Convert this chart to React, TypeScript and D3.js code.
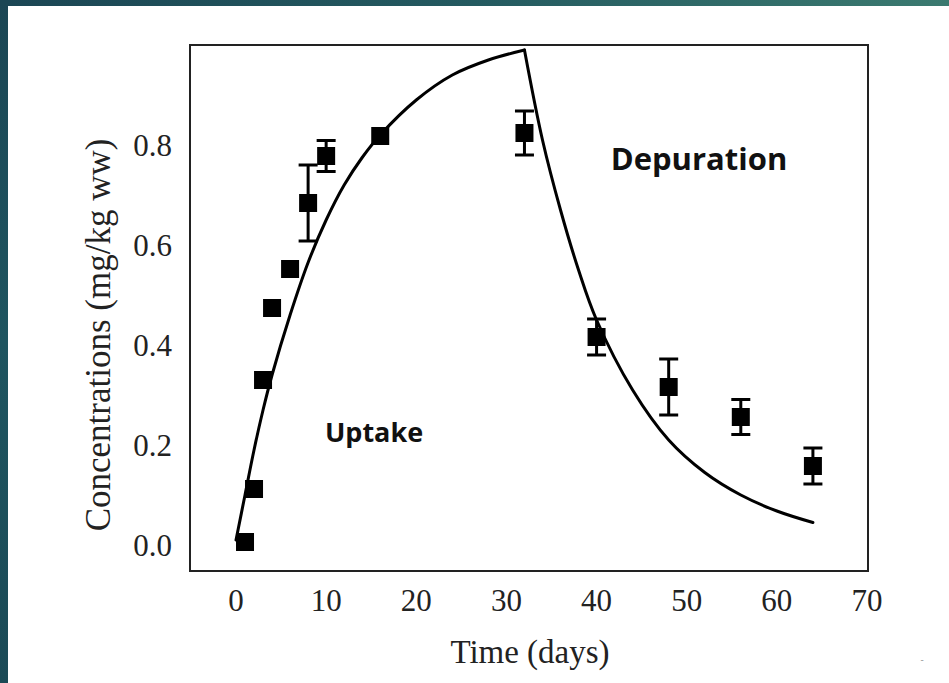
import React from "react";
import * as d3 from "d3";

// Observed (mean ± error) concentrations
const obsDays = [1, 2, 3, 4, 6, 8, 10, 16, 32, 40, 48, 56, 64];
const obsMean = [0.006, 0.112, 0.33, 0.474, 0.552, 0.684, 0.778, 0.818, 0.824, 0.416, 0.316, 0.256, 0.158];
const obsErr = [0, 0, 0, 0, 0, 0.076, 0.031, 0, 0.044, 0.036, 0.056, 0.035, 0.036];

// Fitted model curve
const uptakeDays = [0, 1, 2, 3, 4, 6, 8, 10, 12, 14, 16, 20, 24, 28, 32];
const uptakeConc = [0.01, 0.1, 0.19, 0.27, 0.34, 0.46, 0.565, 0.65, 0.72, 0.775, 0.82, 0.89, 0.94, 0.97, 0.99];
const depDays = [32, 34, 36, 38, 40, 44, 48, 52, 56, 60, 64];
const depConc = [0.99, 0.81, 0.67, 0.55, 0.45, 0.31, 0.21, 0.145, 0.1, 0.068, 0.045];

const xTicks = [0, 10, 20, 30, 40, 50, 60, 70];
const yTicks = [0, 0.2, 0.4, 0.6, 0.8];

const W = 949;
const H = 683;

export default function App() {
  const x = d3.scaleLinear().domain([0, 70]).range([236, 867]);
  const y = d3.scaleLinear().domain([0, 0.8]).range([545, 145]);
  const frame = { x0: 190, x1: 868, y0: 45, y1: 571 };

  const line = d3
    .line<[number, number]>()
    .x((d) => x(d[0]))
    .y((d) => y(d[1]))
    .curve(d3.curveCatmullRom.alpha(0.5));

  const upPts: [number, number][] = uptakeDays.map((d, i) => [d, uptakeConc[i]]);
  const depPts: [number, number][] = depDays.map((d, i) => [d, depConc[i]]);

  const sq = 18;
  const cap = 19;
  const serif = "'Liberation Serif', 'Times New Roman', serif";
  const sans = "'Open Sans', Lato, sans-serif";

  return (
    <svg
      width={W}
      height={H}
      style={{ position: "absolute", left: 0, top: 0, display: "block" }}
    >
      <defs>
        <linearGradient id="topg" x1="0" x2="1" y1="0" y2="0">
          <stop offset="0" stopColor="#1b4654" />
          <stop offset="0.5" stopColor="#245a60" />
          <stop offset="1" stopColor="#3b7a70" />
        </linearGradient>
        <linearGradient id="leftg" x1="0" x2="0" y1="0" y2="1">
          <stop offset="0" stopColor="#1b4654" />
          <stop offset="0.5" stopColor="#1f5560" />
          <stop offset="1" stopColor="#1b4a56" />
        </linearGradient>
      </defs>
      <rect x={0} y={0} width={W} height={H} fill="#ffffff" />
      <rect x={0} y={0} width={W} height={6} fill="url(#topg)" />
      <rect x={0} y={0} width={8} height={H} fill="url(#leftg)" />

      {/* frame */}
      <rect
        x={frame.x0}
        y={frame.y0}
        width={frame.x1 - frame.x0}
        height={frame.y1 - frame.y0}
        fill="none"
        stroke="#222"
        strokeWidth={2}
      />

      {/* model curve */}
      <path d={line(upPts) || ""} fill="none" stroke="#000" strokeWidth={3} strokeLinecap="round" />
      <path d={line(depPts) || ""} fill="none" stroke="#000" strokeWidth={3} strokeLinecap="round" />

      {/* observations */}
      {obsDays.map((d, i) => {
        const cx = x(d);
        const cy = y(obsMean[i]);
        const e = obsErr[i];
        return (
          <g key={d}>
            {e > 0 && (
              <g stroke="#000" strokeWidth={3}>
                <line x1={cx} x2={cx} y1={y(obsMean[i] + e)} y2={y(obsMean[i] - e)} />
                <line x1={cx - cap / 2} x2={cx + cap / 2} y1={y(obsMean[i] + e)} y2={y(obsMean[i] + e)} />
                <line x1={cx - cap / 2} x2={cx + cap / 2} y1={y(obsMean[i] - e)} y2={y(obsMean[i] - e)} />
              </g>
            )}
            <rect x={cx - sq / 2} y={cy - sq / 2} width={sq} height={sq} fill="#000" />
          </g>
        );
      })}

      {/* y tick labels */}
      {yTicks.map((t) => (
        <text
          key={t}
          x={172}
          y={y(t)}
          dy="0.35em"
          textAnchor="end"
          fontFamily={serif}
          fontSize={31}
          fill="#222"
        >
          {t.toFixed(1)}
        </text>
      ))}

      {/* x tick labels */}
      {xTicks.map((t) => (
        <text
          key={t}
          x={x(t)}
          y={611}
          textAnchor="middle"
          fontFamily={serif}
          fontSize={31}
          fill="#222"
        >
          {t}
        </text>
      ))}

      <text x={530} y={663} textAnchor="middle" fontFamily={serif} fontSize={33} fill="#222">
        Time (days)
      </text>
      <text
        transform="translate(110,335) rotate(-90)"
        textAnchor="middle"
        fontFamily={serif}
        fontSize={35}
        fill="#222"
      >
        Concentrations (mg/kg ww)
      </text>

      <text x={699} y={170} textAnchor="middle" fontFamily={sans} fontWeight={700} fontSize={31} fill="#111">
        Depuration
      </text>
      <text x={374} y={442} textAnchor="middle" fontFamily={sans} fontWeight={700} fontSize={27} fill="#111">
        Uptake
      </text>

      <text x={922} y={663} textAnchor="middle" fontFamily={sans} fontSize={10} fill="#999">
        -
      </text>
    </svg>
  );
}
